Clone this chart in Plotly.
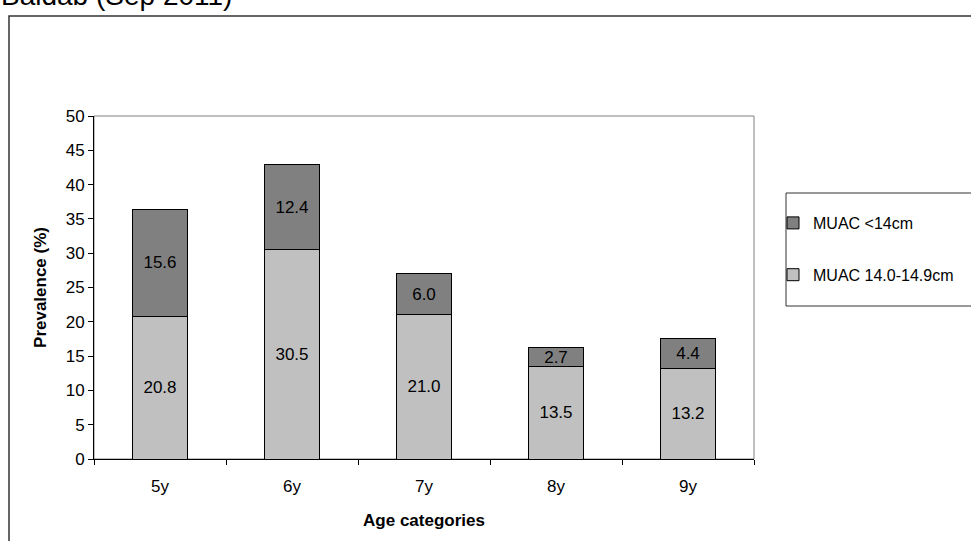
import plotly.graph_objects as go

# Age groups and MUAC prevalence (%) per group
ages = ["5y", "6y", "7y", "8y", "9y"]
muac_14_149 = [20.8, 30.5, 21.0, 13.5, 13.2]
muac_lt14 = [15.6, 12.4, 6.0, 2.7, 4.4]

y_ticks = list(range(0, 51, 5))

FONT = "Liberation Sans, Arial, sans-serif"
FS = 17

# Figure geometry in pixels
W, H = 971, 541
L, R, T, B = 94, 217, 116, 82
PW, PH = W - L - R, H - T - B


def px_x(x):
    return (x - L) / PW


def px_y(y):
    return (H - B - y) / PH


fig = go.Figure()
fig.add_trace(go.Bar(
    x=ages, y=muac_14_149, name="MUAC 14.0-14.9cm",
    marker=dict(color="#C0C0C0", line=dict(color="black", width=1)),
    text=[f"{v:.1f}" for v in muac_14_149], textposition="inside",
    insidetextanchor="middle", textangle=0,
    textfont=dict(family=FONT, size=FS, color="black"),
    legendgroup="b", legendrank=2,
))
fig.add_trace(go.Bar(
    x=ages, y=muac_lt14, name="MUAC <14cm",
    marker=dict(color="#808080", line=dict(color="black", width=1)),
    text=[f"{v:.1f}" for v in muac_lt14], textposition="inside",
    insidetextanchor="middle", textangle=0,
    textfont=dict(family=FONT, size=FS, color="black"),
    legendgroup="a", legendrank=1,
))

shapes = [
    # outer chart frame
    dict(type="rect", xref="paper", yref="paper",
         x0=px_x(9), x1=px_x(990), y0=px_y(560), y1=px_y(16),
         line=dict(color="#333333", width=1.5), fillcolor="rgba(0,0,0,0)", layer="below"),
    # plot area frame
    dict(type="rect", xref="paper", yref="paper", x0=0, x1=1, y0=0, y1=1,
         line=dict(color="#808080", width=1), fillcolor="rgba(0,0,0,0)", layer="below"),
    # legend frame
    dict(type="rect", xref="paper", yref="paper",
         x0=px_x(786), x1=px_x(995), y0=px_y(306), y1=px_y(193),
         line=dict(color="#333333", width=1), fillcolor="rgba(0,0,0,0)"),
]

fig.update_layout(
    width=W, height=H,
    margin=dict(l=L, r=R, t=T, b=B, autoexpand=False),
    barmode="stack", bargap=0.59,
    paper_bgcolor="white", plot_bgcolor="white",
    font=dict(family=FONT, size=FS, color="black"),
    uniformtext=dict(minsize=FS, mode="show"),
    shapes=shapes,
    showlegend=True,
    legend=dict(
        x=px_x(773), y=px_y(206), xanchor="left", yanchor="top",
        traceorder="grouped", tracegroupgap=28,
        font=dict(family=FONT, size=16, color="black"),
        bgcolor="rgba(0,0,0,0)", borderwidth=0,
        itemwidth=30,
    ),
    annotations=[dict(
        text="Baidab (Sep 2011)", xref="paper", yref="paper",
        x=px_x(-1), y=px_y(-5), xanchor="left", yanchor="middle",
        showarrow=False, font=dict(family=FONT, size=28, color="black"),
    )],
    xaxis=dict(
        tickson="boundaries", ticks="outside", ticklen=5, tickcolor="black",
        showline=True, linecolor="black", linewidth=1,
        tickfont=dict(size=FS), ticklabelstandoff=12, showgrid=False,
        title=dict(text="<b>Age categories</b>", font=dict(size=FS), standoff=18),
    ),
    yaxis=dict(
        range=[0, 50], tickvals=y_ticks, ticks="outside", ticklen=5,
        tickcolor="black", showline=True, linecolor="black", linewidth=1,
        showgrid=False, zeroline=False, tickfont=dict(size=FS),
        title=dict(text="<b>Prevalence (%)</b>", font=dict(size=FS), standoff=14),
    ),
)

fig.write_html("out.html")
